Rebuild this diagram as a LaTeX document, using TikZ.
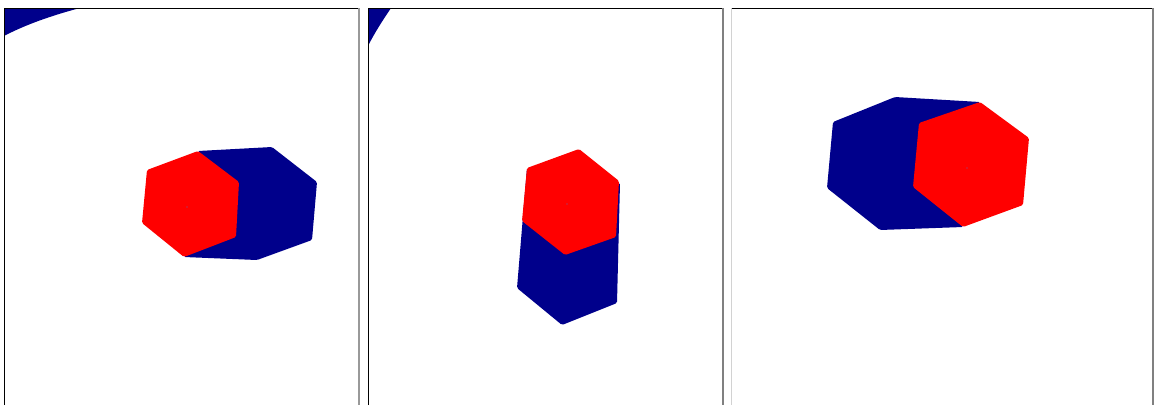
\documentclass[tikz,border=0pt]{standalone}
\usepackage{tikz}
\definecolor{prismblue}{RGB}{0,0,139}
\begin{document}
\begin{tikzpicture}[x=1pt,y=-1pt]
    \tikzset{
      panel/.style={draw=black, line width=1pt},
      edge/.style={draw=gray!80, line width=1.6pt},
      body/.style={fill=prismblue, rounded corners=1.5pt},
      front/.style={fill=red, rounded corners=1.5pt},
      centre/.style={fill=prismblue!60}
    }
    \useasboundingbox (0,0) rectangle (1155,405);

    % view 1: prism seen from the side, front face to the left
    \begin{scope}
      \clip (4,8) rectangle (359,405);
      \fill[prismblue] (4,8) -- (80,8) .. controls (50,16) and (25,25) .. (4,36) -- cycle;
    \end{scope}
    \fill[body] (198,151) -- (272,147) -- (317,182) -- (312,240) -- (257,260) -- (184,257) -- cycle;
    \fill[front] (198,151) -- (239,182) -- (236,237) -- (184,257) -- (142,223) -- (147,170) -- cycle;
    \fill[centre] (187,207) circle (0.7);
    \draw[panel] (4,405) -- (4,8) -- (358,8);
    \draw[edge] (359,8) -- (359,405);

    % view 2: prism seen from above, back face below
    \begin{scope}
      \clip (368,8) rectangle (723,405);
      \fill[prismblue] (368,8) -- (391,8) .. controls (383,20) and (375,32) .. (368,46) -- cycle;
    \end{scope}
    \fill[body] (527,168) -- (517,288) -- (562,325) -- (617,303) -- (620,183) -- cycle;
    \fill[front] (579,149) -- (619,181) -- (616,237) -- (565,255) -- (522,221) -- (527,168) -- cycle;
    \fill[centre] (567,204) circle (0.7);
    \draw[panel] (368,405) -- (368,8) -- (722,8);
    \draw[edge, draw=gray] (723,8) -- (723,405);

    % view 3: prism seen from the other side, front face to the right
    \fill[body] (895,97) -- (980,102) -- (963,227) -- (880,230) -- (827,188) -- (833,122) -- cycle;
    \fill[front] (980,102) -- (1029,138) -- (1023,205) -- (963,227) -- (913,187) -- (919,123) -- cycle;
    \fill[centre] (967,168) circle (0.7);
    \draw[gray!35, line width=1pt] (731,8) -- (731,405);
    \draw[panel] (732,8) -- (1152,8);
    \draw[edge, draw=gray] (1153,8) -- (1153,405);
  \end{tikzpicture}
\end{document}
